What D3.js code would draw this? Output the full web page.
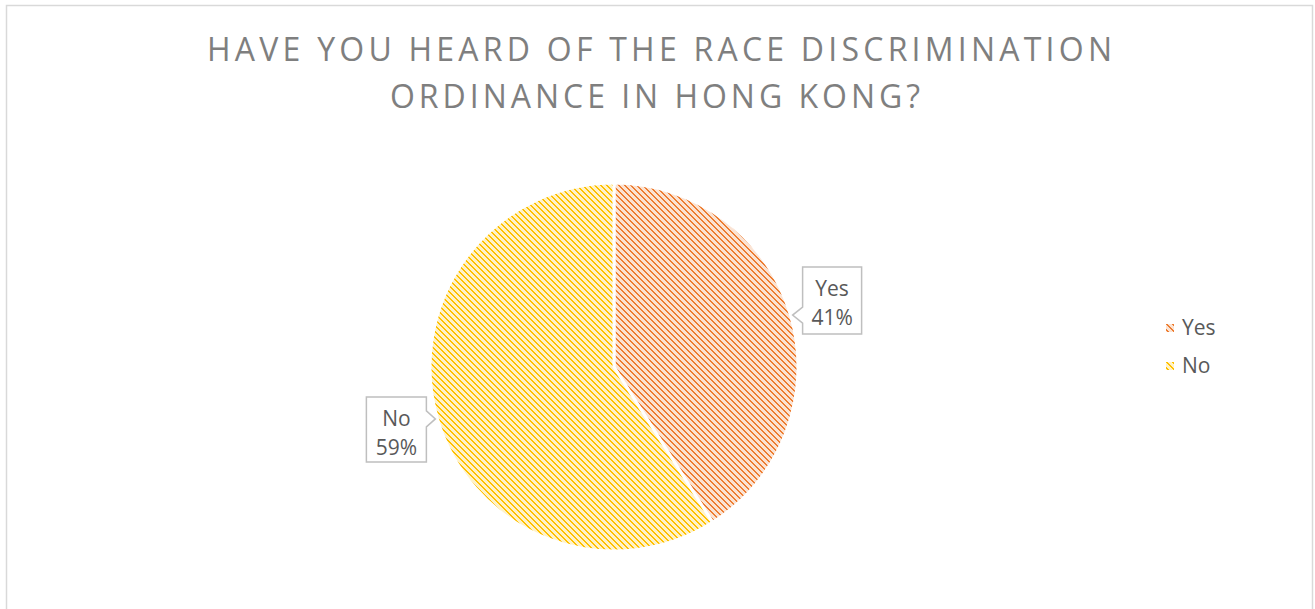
<!DOCTYPE html>
<html>
<head>
<meta charset="utf-8">
<script src="https://cdn.jsdelivr.net/npm/d3@7"></script>
<style>
  html, body { margin: 0; padding: 0; background: #fff; }
  svg { display: block; }
</style>
</head>
<body>
<svg id="chart" width="1315" height="609"></svg>
<script>
// Survey answers
const categories = ["Yes", "No"];
const shares = [41, 59];
const titleLines = ["HAVE YOU HEARD OF THE RACE DISCRIMINATION", "ORDINANCE IN HONG KONG?"];

const colors = { Yes: { fg: "#ED7D31", bg: "#FBE3D3" }, No: { fg: "#FFC000", bg: "#FFF2C8" } };

const W = 1315, H = 609;
const svg = d3.select("#chart");
const defs = svg.append("defs");

// Diagonal hatch patterns: 2px stripes every 6px
categories.forEach(c => {
  const T = 6;
  const p = defs.append("pattern")
    .attr("id", "pat-" + c)
    .attr("patternUnits", "userSpaceOnUse")
    .attr("width", T).attr("height", T);
  p.append("rect").attr("width", T).attr("height", T).attr("fill", colors[c].bg);
  for (let y = 0; y < T; y++) {
    for (let x = 0; x < T; x++) {
      const k = ((x - y) % T + T) % T;
      if (k === 0 || k === 1) {
        p.append("rect").attr("x", x).attr("y", y)
          .attr("width", 1).attr("height", 1)
          .attr("shape-rendering", "crispEdges")
          .attr("fill", colors[c].fg);
      }
    }
  }
});

// Chart frame
svg.append("rect")
  .attr("x", 6.5).attr("y", 5.5).attr("width", 1306).attr("height", 620)
  .attr("fill", "#fff").attr("stroke", "#D9D9D9").attr("stroke-width", 1.5);

// Title, spread to its letter-spaced width
const titleFont = "'Open Sans', sans-serif";
const titleSpec = [
  { text: titleLines[0], y: 61, width: 905, cx: 659.5 },
  { text: titleLines[1], y: 108, width: 530, cx: 655 }
];
titleSpec.forEach(t => {
  const el = svg.append("text")
    .attr("y", t.y)
    .attr("font-family", titleFont)
    .attr("font-size", 32)
    .attr("fill", "#7F7F7F")
    .text(t.text);
  const w0 = el.node().getComputedTextLength();
  const n = t.text.length;
  const s = (t.width - w0) / (n - 1);
  el.attr("letter-spacing", s).attr("x", t.cx - t.width / 2);
});

// Pie
const cx = 614, cy = 367, R = 184;
const data = categories.map((c, i) => ({ name: c, value: shares[i] }));
const pie = d3.pie().value(d => d.value).sort(null);
const arcs = pie(data);
const arc = d3.arc().innerRadius(0).outerRadius(R);

const g = svg.append("g").attr("transform", `translate(${cx},${cy})`);
g.selectAll("path.slice")
  .data(arcs)
  .join("path")
  .attr("class", "slice")
  .attr("d", arc)
  .attr("fill", d => `url(#pat-${d.data.name})`)
  .attr("stroke", "#fff")
  .attr("stroke-width", 3)
  .attr("stroke-linejoin", "round");

// Callout labels, pointing at each slice's mid angle
const labelFont = "'Open Sans', sans-serif";
const callouts = [
  { arc: arcs[0], side: "right", dx: 10, w: 59, h: 67, up: 48 },
  { arc: arcs[1], side: "left", dx: 9, w: 60, h: 65, up: 22 }
];
callouts.forEach(co => {
  const angle = (co.arc.startAngle + co.arc.endAngle) / 2;
  const tipR = R + 2;
  const tx = cx + tipR * Math.sin(angle);
  const ty = cy - tipR * Math.cos(angle);
  const w = co.w, h = co.h, pw = 8;
  let x0, y0, d;
  if (co.side === "right") {
    x0 = tx + co.dx; y0 = ty - co.up;
    d = `M${x0},${y0} H${x0 + w} V${y0 + h} H${x0} V${ty + pw} L${tx},${ty} L${x0},${ty - pw} Z`;
  } else {
    x0 = tx - co.dx - w; y0 = ty - co.up;
    d = `M${x0},${y0} H${x0 + w} V${ty - pw} L${tx},${ty} L${x0 + w},${ty + pw} V${y0 + h} H${x0} Z`;
  }
  svg.append("path")
    .attr("d", d)
    .attr("fill", "#fff")
    .attr("stroke", "#BFBFBF")
    .attr("stroke-width", 1.5);
  const t = svg.append("text")
    .attr("text-anchor", "middle")
    .attr("font-family", labelFont)
    .attr("font-size", 21)
    .attr("fill", "#595959");
  t.append("tspan").attr("x", x0 + w / 2).attr("y", y0 + 29).text(co.arc.data.name);
  t.append("tspan").attr("x", x0 + w / 2).attr("y", y0 + 58).text(co.arc.data.value + "%");
});

// Legend
const legend = svg.append("g").attr("transform", "translate(1166,324)");
const li = legend.selectAll("g").data(categories).join("g")
  .attr("transform", (d, i) => `translate(0,${i * 38})`);
li.append("rect").attr("width", 8).attr("height", 8)
  .attr("fill", d => `url(#pat-${d})`);
li.append("text")
  .attr("x", 16).attr("y", 11)
  .attr("font-family", labelFont)
  .attr("font-size", 21)
  .attr("fill", "#595959")
  .text(d => d);
</script>
</body>
</html>
